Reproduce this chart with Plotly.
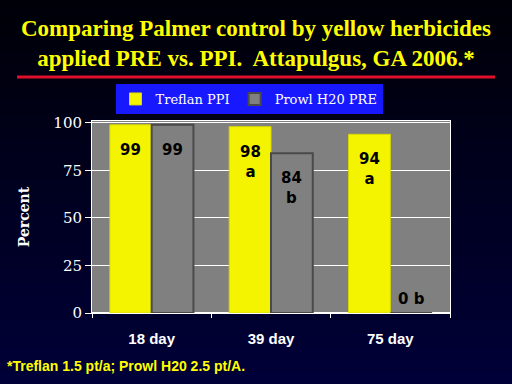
import plotly.graph_objects as go

categories = ["18 day", "39 day", "75 day"]
treflan = [99, 98, 94]
prowl = [99, 84, 0]
treflan_labels = ["99", "98<br>a", "94<br>a"]
prowl_labels = ["99", "84<br>b", "0 b"]
y_ticks = [0, 25, 50, 75, 100]

fig = go.Figure()
fig.add_trace(go.Bar(name="Treflan PPI", x=categories, y=treflan,
                     marker=dict(color="#f4f400", line=dict(color="#d8d800", width=1))))
fig.add_trace(go.Bar(name="Prowl H20 PRE", x=categories, y=prowl,
                     marker=dict(color="#808080", line=dict(color="#4a4a4a", width=2))))

shapes = []
n = 30
for i in range(n):
    t = i / (n - 1)
    b = int(8 + t * 48)
    y_top_px = 384 * i / n
    y_bot_px = 384 * (i + 1) / n
    shapes.append(dict(type="rect", xref="paper", yref="paper", layer="below",
                       x0=(0 - 92) / 358, x1=(512 - 92) / 358,
                       y0=(313 - y_bot_px) / 192, y1=(313 - y_top_px) / 192,
                       line=dict(width=0), fillcolor=f"rgb(0,0,{b})"))
shapes.append(dict(type="rect", xref="paper", yref="paper", layer="below",
                   x0=0, x1=1, y0=0, y1=1, line=dict(width=0), fillcolor="#808080"))
shapes.append(dict(type="line", xref="paper", yref="paper",
                   x0=(17 - 92) / 358, x1=(495 - 92) / 358,
                   y0=(313 - 77) / 192, y1=(313 - 77) / 192,
                   line=dict(color="#e0102a", width=3)))

annotations = []
for i in range(len(categories)):
    for off, vals, labs in ((-0.175, treflan, treflan_labels), (0.175, prowl, prowl_labels)):
        v = vals[i]
        if v > 5:
            annotations.append(dict(x=i + off, y=v, xref="x", yref="y", text="<b>" + labs[i] + "</b>",
                                    showarrow=False, yanchor="top", yshift=-14,
                                    font=dict(family="DejaVu Sans", size=15, color="black"),
                                    xanchor="center"))
        else:
            annotations.append(dict(x=i + off, y=v, xref="x", yref="y", text="<b>" + labs[i] + "</b>",
                                    showarrow=False, yanchor="bottom", yshift=3,
                                    font=dict(family="DejaVu Sans", size=15, color="black")))

annotations.append(dict(xref="paper", yref="paper", x=(256 - 92) / 358, y=(313 - 43) / 192,
                        text="<b>Comparing Palmer control by yellow herbicides<br>applied PRE vs. PPI.  Attapulgus, GA 2006.*</b>",
                        showarrow=False, xanchor="center", yanchor="middle",
                        font=dict(family="Liberation Serif", size=23, color="#ffff00")))
annotations.append(dict(xref="paper", yref="paper", x=(5 - 92) / 358, y=(313 - 366) / 192,
                        text="<b>*Treflan 1.5 pt/a; Prowl H20 2.5 pt/A.</b>",
                        showarrow=False, xanchor="left", yanchor="middle",
                        font=dict(family="Liberation Sans", size=14, color="#ffff00")))

fig.update_layout(
    width=512, height=384,
    margin=dict(l=92, r=62, t=121, b=71),
    paper_bgcolor="#000022",
    plot_bgcolor="rgba(0,0,0,0)",
    barmode="group", bargap=0.3, bargroupgap=0,
    shapes=shapes, annotations=annotations,
    showlegend=True,
    legend=dict(orientation="h", x=(249 - 92) / 358, xanchor="center",
                y=(313 - 84) / 192, yanchor="top",
                bgcolor="#1818ff", font=dict(family="DejaVu Serif", size=13, color="white"),
                itemwidth=30, tracegroupgap=0),
    xaxis=dict(showgrid=False, ticks="outside", tickson="boundaries", ticklen=4,
               tickcolor="white", showline=True, linecolor="white", linewidth=1, mirror=True,
               tickfont=dict(family="Liberation Sans", size=15, color="white"),
               ticklabelstandoff=12),
    yaxis=dict(range=[0, 101], tickvals=y_ticks, showgrid=True, gridcolor="white",
               gridwidth=1, ticks="outside", ticklen=6, tickcolor="white",
               showline=True, linecolor="white", linewidth=1, mirror=True,
               tickfont=dict(family="DejaVu Serif", size=15, color="white"),
               title=dict(text="<b>Percent</b>", standoff=20,
                          font=dict(family="DejaVu Serif", size=14, color="white"))),
)
fig.update_xaxes(tickprefix="<b>", ticksuffix="</b>")
fig.update_yaxes(tickprefix="<b>", ticksuffix="</b>")
fig.write_html("out.html")
